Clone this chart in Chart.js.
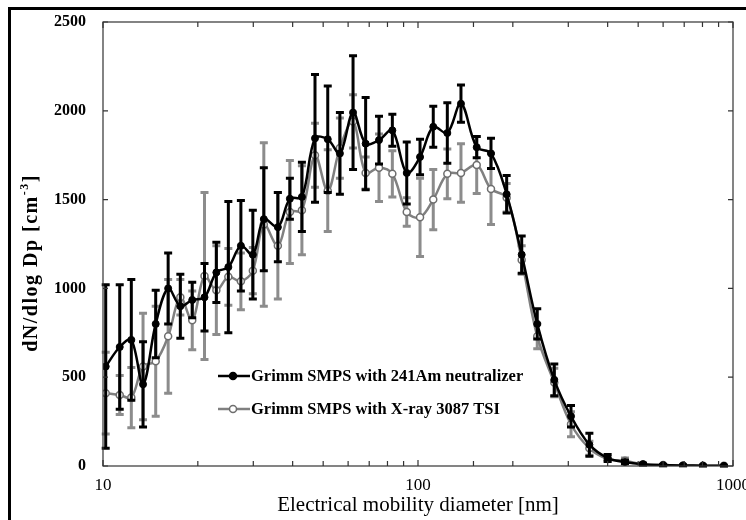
<!DOCTYPE html>
<html lang="en">
<head>
    <meta charset="UTF-8">
    <title>SMPS size distribution</title>
    <script src="https://cdn.jsdelivr.net/npm/chart.js@4.4.1/dist/chart.umd.min.js"></script>
    <style>
        body {
            margin: 0;
            padding: 0;
            background: #fff;
            overflow: hidden;
        }
        .wrap {
            position: relative;
            width: 746px;
            height: 520px;
            overflow: hidden;
        }
        /* cadre noir autour de la figure (coupé à droite et en bas) */
        .frame {
            position: absolute;
            left: 8px;
            top: 7px;
            width: 800px;
            height: 600px;
            border: 3px solid #000;
            pointer-events: none;
        }
        canvas {
            position: absolute;
            left: 0;
            top: 0;
        }
    </style>
</head>
<body>
<div class="wrap">
    <canvas id="chart" width="746" height="520"></canvas>
    <div class="frame"></div>
</div>

<script>
    // Electrical mobility diameter [nm]
    const diameters = [10.2, 11.3, 12.3, 13.4, 14.7, 16.1, 17.6, 19.2, 21.0, 22.9,
        25.0, 27.4, 29.9, 32.4, 35.9, 39.2, 42.8, 47.1, 51.7, 56.5,
        62.2, 68.2, 75.2, 82.9, 92.1, 101.5, 111.8, 123.9, 136.9, 153.6,
        170.5, 191.2, 213.4, 239.1, 270.8, 306, 350, 400, 454, 518,
        600, 694, 803, 936];

    // Grimm SMPS with 241Am neutralizer
    const amValues = [560, 670, 710, 460, 800, 1000, 900, 935, 950, 1090,
        1120, 1240, 1190, 1390, 1345, 1505, 1515, 1845, 1840, 1760,
        1990, 1815, 1835, 1890, 1650, 1740, 1910, 1875, 2040, 1795,
        1760, 1530, 1190, 800, 485, 280, 120, 45, 22, 10,
        5, 3, 2, 1];
    const amErrors = [460, 350, 340, 240, 190, 200, 180, 100, 190, 170,
        370, 255, 250, 290, 195, 115, 195, 360, 300, 230,
        320, 260, 135, 90, 175, 100, 115, 170, 105, 60,
        85, 105, 105, 85, 90, 60, 65, 20, 10, 5,
        3, 2, 2, 1];

    // Grimm SMPS with X-ray 3087 TSI
    const xrayValues = [410, 400, 385, 560, 590, 730, 950, 820, 1070, 990,
        1065, 1040, 1100, 1360, 1240, 1430, 1440, 1750, 1550, 1790,
        1940, 1650, 1680, 1645, 1430, 1400, 1500, 1645, 1650, 1695,
        1560, 1510, 1160, 730, 470, 235, 100, 40, 30, 10,
        5, 3, 2, 1];
    const xrayErrors = [230, 110, 170, 300, 310, 320, 100, 165, 470, 250,
        160, 160, 130, 460, 300, 290, 250, 180, 230, 170,
        150, 90, 190, 130, 80, 220, 170, 140, 165, 160,
        200, 80, 80, 70, 80, 70, 40, 10, 15, 5,
        3, 2, 1, 1];

    const yTicks = [0, 500, 1000, 1500, 2000, 2500];
    const xLabels = [10, 100, 1000];

    const serif = '"Liberation Serif", "Times New Roman", serif';

    // barres d'erreur, dessinées juste avant chaque série
    const errorBars = {
        id: 'errorBars',
        beforeDatasetDraw(chart, args) {
            const ds = chart.data.datasets[args.index];
            if (!ds.errors) return;
            const ctx = chart.ctx;
            const y = chart.scales.y;
            ctx.save();
            ctx.strokeStyle = ds.errorColor;
            ctx.lineWidth = 3;
            args.meta.data.forEach((pt, i) => {
                const v = ds.data[i].y;
                const e = ds.errors[i];
                if (!e) return;
                const top = y.getPixelForValue(v + e);
                const bot = y.getPixelForValue(Math.max(0, v - e));
                ctx.beginPath();
                ctx.moveTo(pt.x, top);
                ctx.lineTo(pt.x, bot);
                ctx.moveTo(pt.x - 4, top);
                ctx.lineTo(pt.x + 4, top);
                ctx.moveTo(pt.x - 4, bot);
                ctx.lineTo(pt.x + 4, bot);
                ctx.stroke();
            });
            ctx.restore();
        }
    };

    // cadre du graphique, graduations vers l'intérieur, titre Y et légende
    const decorations = {
        id: 'decorations',
        afterDraw(chart) {
            const ctx = chart.ctx;
            const { left, right, top, bottom } = chart.chartArea;
            const xs = chart.scales.x;
            const ys = chart.scales.y;
            ctx.save();
            ctx.strokeStyle = '#333';
            ctx.lineWidth = 1.2;
            ctx.strokeRect(left, top, right - left, bottom - top);

            ctx.beginPath();
            xs.ticks.forEach(t => {
                const px = xs.getPixelForValue(t.value);
                const len = xLabels.includes(t.value) ? 6 : 5;
                ctx.moveTo(px, bottom);
                ctx.lineTo(px, bottom - len);
                ctx.moveTo(px, top);
                ctx.lineTo(px, top + len);
            });
            yTicks.forEach(v => {
                const py = ys.getPixelForValue(v);
                ctx.moveTo(left, py);
                ctx.lineTo(left + 5, py);
                ctx.moveTo(right, py);
                ctx.lineTo(right - 5, py);
            });
            ctx.stroke();

            // titre de l'axe Y avec exposant
            ctx.translate(32, 263);
            ctx.rotate(-Math.PI / 2);
            ctx.fillStyle = '#000';
            ctx.textBaseline = 'middle';
            ctx.letterSpacing = '1.5px';
            const mainFont = 'bold 20px ' + serif;
            const supFont = 'bold 12px ' + serif;
            ctx.font = mainFont;
            const a = 'dN/dlog Dp [cm';
            const c = ']';
            const wa = ctx.measureText(a).width;
            const wc = ctx.measureText(c).width;
            ctx.font = supFont;
            const wb = ctx.measureText('-3').width;
            let x0 = -(wa + wb + wc) / 2;
            ctx.font = mainFont;
            ctx.fillText(a, x0, 0);
            ctx.font = supFont;
            ctx.fillText('-3', x0 + wa, -7);
            ctx.font = mainFont;
            ctx.fillText(c, x0 + wa + wb, 0);
            ctx.restore();

            // légende dans la zone de tracé
            ctx.save();
            ctx.font = 'bold 16.5px ' + serif;
            ctx.textBaseline = 'middle';
            chart.data.datasets.forEach((ds, i) => {
                const ly = 376 + i * 33;
                ctx.strokeStyle = ds.borderColor;
                ctx.lineWidth = 2.5;
                ctx.beginPath();
                ctx.moveTo(218, ly);
                ctx.lineTo(250, ly);
                ctx.stroke();
                ctx.beginPath();
                ctx.arc(233, ly, 3.5, 0, Math.PI * 2);
                ctx.fillStyle = ds.pointBackgroundColor;
                ctx.fill();
                ctx.lineWidth = 1.5;
                ctx.strokeStyle = ds.pointBorderColor;
                ctx.stroke();
                ctx.fillStyle = '#000';
                ctx.fillText(ds.label, 251, ly + 1);
            });
            ctx.restore();
        }
    };

    const ctx = document.getElementById('chart').getContext('2d');
    new Chart(ctx, {
        type: 'line',
        data: {
            datasets: [
                {
                    label: 'Grimm SMPS with 241Am neutralizer',
                    data: diameters.map((d, i) => ({ x: d, y: amValues[i] })),
                    errors: amErrors,
                    errorColor: '#000',
                    borderColor: '#000',
                    borderWidth: 2.5,
                    pointRadius: 3.5,
                    pointBackgroundColor: '#000',
                    pointBorderColor: '#000',
                    pointBorderWidth: 1,
                    tension: 0.35
                },
                {
                    label: 'Grimm SMPS with X-ray 3087 TSI',
                    data: diameters.map((d, i) => ({ x: d, y: xrayValues[i] })),
                    errors: xrayErrors,
                    errorColor: '#8c8c8c',
                    borderColor: '#808080',
                    borderWidth: 2.5,
                    pointRadius: 3.5,
                    pointBackgroundColor: '#fff',
                    pointBorderColor: '#6e6e6e',
                    pointBorderWidth: 1.5,
                    tension: 0.35
                }
            ]
        },
        options: {
            responsive: false,
            animation: false,
            devicePixelRatio: 1,
            layout: { padding: { left: 0, top: 22, right: 13, bottom: 0 } },
            plugins: {
                legend: { display: false },
                tooltip: { enabled: false }
            },
            scales: {
                x: {
                    type: 'logarithmic',
                    min: 10,
                    max: 1000,
                    grid: { display: false, drawTicks: false },
                    border: { display: false },
                    ticks: {
                        autoSkip: false,
                        maxRotation: 0,
                        padding: 9,
                        color: '#000',
                        font: { family: serif, size: 17 },
                        callback: v => xLabels.includes(v) ? String(v) : ''
                    },
                    title: {
                        display: true,
                        text: 'Electrical mobility diameter [nm]',
                        color: '#000',
                        font: { family: serif, size: 21 },
                        padding: { top: 0, bottom: 2 }
                    },
                    afterFit: s => {
                        s.height = 54;
                        s.paddingLeft = 0;
                        s.paddingRight = 0;
                    }
                },
                y: {
                    min: 0,
                    max: 2500,
                    grid: { display: false, drawTicks: false },
                    border: { display: false },
                    afterBuildTicks: s => {
                        s.ticks = yTicks.map(v => ({ value: v }));
                    },
                    ticks: {
                        padding: 17,
                        color: '#000',
                        font: { family: serif, size: 16, weight: 'bold' },
                        callback: v => String(v)
                    },
                    afterFit: s => {
                        s.width = 103;
                        s.paddingTop = 0;
                        s.paddingBottom = 0;
                    }
                }
            }
        },
        plugins: [errorBars, decorations]
    });
</script>
</body>
</html>
